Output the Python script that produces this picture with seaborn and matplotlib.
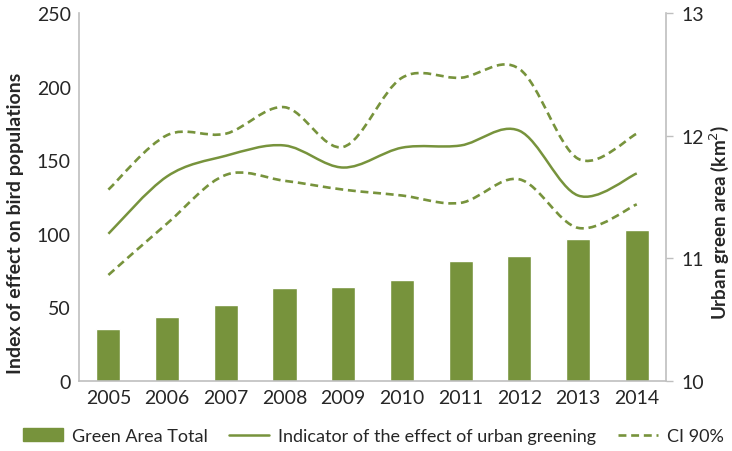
import numpy as np
import pandas as pd
import matplotlib
matplotlib.use("Agg")
import matplotlib.pyplot as plt
import seaborn as sns
from matplotlib.path import Path
from matplotlib.patches import PathPatch, Patch
from matplotlib.lines import Line2D

years = ["2005", "2006", "2007", "2008", "2009", "2010", "2011", "2012", "2013", "2014"]
green_area = [10.42, 10.52, 10.62, 10.76, 10.77, 10.82, 10.98, 11.02, 11.16, 11.23]
indicator = [100, 139, 153, 160, 145, 158.5, 160, 170, 126, 141]
ci_upper = [130, 167, 168, 186, 159, 206, 206, 212, 151, 168]
ci_lower = [72, 107, 140, 136, 130, 126, 121, 137, 104, 120]

green = "#77933C"

sns.set_style("white")
plt.rcParams["font.family"] = ["Lato", "DejaVu Sans"]


def smooth_path(xs, ys):
    # Excel-style smoothed line: cubic Bezier through the points
    pts = np.column_stack([xs, ys]).astype(float)
    n = len(pts)
    verts = [pts[0]]
    codes = [Path.MOVETO]
    for i in range(n - 1):
        p0 = pts[i - 1] if i > 0 else pts[i]
        p3 = pts[i + 2] if i + 2 < n else pts[i + 1]
        c1 = pts[i] + (pts[i + 1] - p0) / 6
        c2 = pts[i + 1] - (p3 - pts[i]) / 6
        verts += [c1, c2, pts[i + 1]]
        codes += [Path.CURVE4] * 3
    return Path(verts, codes)


df = pd.DataFrame({"year": years, "area": green_area})

fig = plt.figure(figsize=(7.32, 4.52), dpi=100)
ax = fig.add_axes([0.108, 0.155, 0.802, 0.814])
ax2 = ax.twinx()

sns.barplot(data=df, x="year", y="area", color=green, saturation=1,
            width=0.41, ax=ax2)
ax2.set_ylim(10, 13)
ax2.set_yticks([10, 11, 12, 13])
ax2.set_ylabel("Urban green area (km$^2$)", fontsize=13.5, fontweight="bold")
ax2.yaxis.set_label_coords(1.07, 0.435)
ax2.set_xlabel("")

x = np.arange(len(years))
ax.add_patch(PathPatch(smooth_path(x, indicator), fill=False, edgecolor=green,
                       lw=1.8, capstyle="butt"))
for s in (ci_upper, ci_lower):
    ax.add_patch(PathPatch(smooth_path(x, s), fill=False, edgecolor=green,
                           lw=1.9, linestyle=(0, (3, 1.8))))

ax.set_zorder(ax2.get_zorder() + 1)
ax.patch.set_visible(False)
ax.set_xlim(-0.5, 9.5)
ax.set_ylim(0, 250)
ax.set_yticks([0, 50, 100, 150, 200, 250])
ax.set_ylabel("Index of effect on bird populations", fontsize=14,
              fontweight="bold")
ax.yaxis.set_label_coords(-0.093, 0.43)

for a in (ax, ax2):
    a.spines["top"].set_visible(False)
    for side in ["left", "right", "bottom"]:
        a.spines[side].set_color("#BFBFBF")
        a.spines[side].set_linewidth(1.2)
    a.tick_params(labelsize=14, colors="#262626", length=0, pad=6)
ax2.tick_params(axis="y", length=5, width=1, color="#BFBFBF", direction="out")
ax.spines["right"].set_visible(False)
ax2.spines["left"].set_visible(False)
ax2.spines["bottom"].set_visible(False)

handles = [
    Patch(facecolor=green, edgecolor=green),
    Line2D([0], [0], color=green, lw=1.8),
    Line2D([0], [0], color=green, lw=1.9, linestyle=(0, (3, 1.8))),
]
labels = ["Green Area Total", "Indicator of the effect of urban greening", "CI 90%"]
fig.legend(handles, labels, loc="center", bbox_to_anchor=(0.51, 0.033), ncol=3,
           frameon=False, fontsize=13, handlelength=2.2, columnspacing=1.2,
           handletextpad=0.5)

fig.savefig("out.png", dpi=100)
